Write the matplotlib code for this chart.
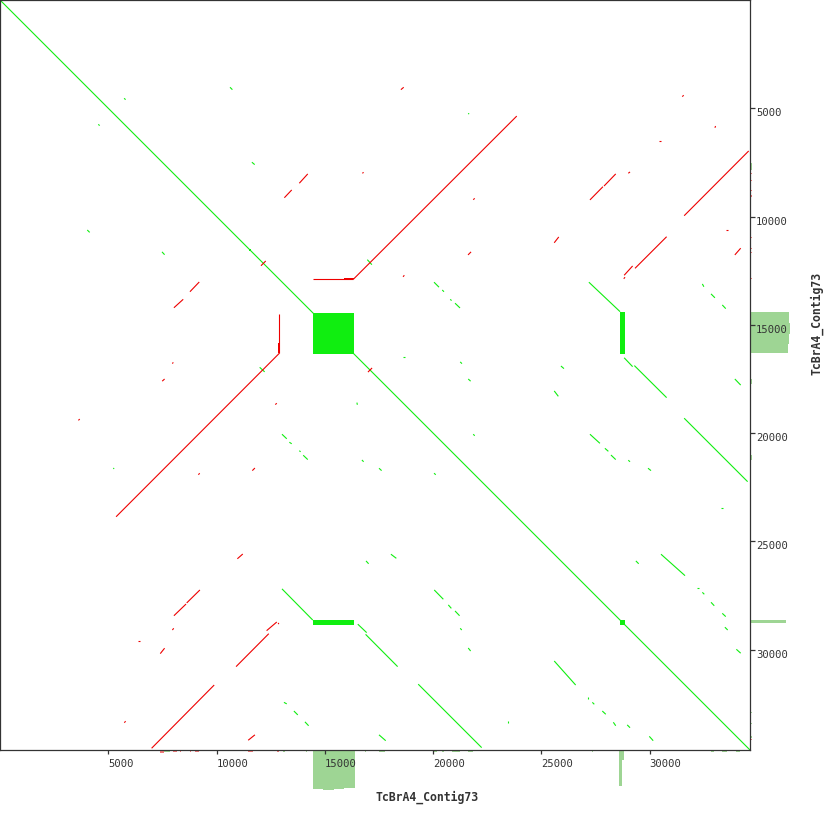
import matplotlib
matplotlib.use('Agg')
import matplotlib.pyplot as plt
from matplotlib.patches import Rectangle

# contig self-comparison (dot plot)
contig_name = 'TcBrA4_Contig73'
contig_len = 34630
ticks = [5000, 10000, 15000, 20000, 25000, 30000]

# forward hits: (x1, y1, x2, y2) in bp
fwd_hits = [
    (0, 0, 34630, 34630),
    (10620, 4030, 10730, 4140), (5730, 4540, 5800, 4600), (4540, 5740, 4600, 5800),
    (11630, 7490, 11760, 7600), (4030, 10620, 4140, 10730), (7480, 11630, 7600, 11760),
    (21620, 5230, 21660, 5270), (20040, 13030, 20270, 13260), (20420, 13390, 20500, 13470),
    (20790, 13820, 20850, 13880), (21010, 14000, 21240, 14220), (18610, 16500, 18700, 16500),
    (21250, 16710, 21330, 16790), (25900, 16900, 26040, 17020), (27190, 13030, 28630, 14390),
    (28820, 16520, 29210, 16930), (29290, 16880, 30780, 18360), (32430, 13110, 32500, 13240),
    (32830, 13570, 33010, 13750), (33350, 14080, 33510, 14250),
    (16480, 18590, 16500, 18690), (5230, 21610, 5270, 21650), (13020, 20050, 13240, 20260),
    (13360, 20420, 13470, 20490), (13820, 20810, 13880, 20860), (14000, 21020, 14210, 21220),
    (16710, 21240, 16790, 21320), (16900, 25900, 17020, 26030), (13020, 27190, 14440, 28630),
    (16520, 28820, 16930, 29210), (16880, 29290, 18360, 30780), (13110, 32430, 13240, 32500),
    (13570, 32830, 13750, 33010), (14080, 33330, 14250, 33510),
    (21620, 17500, 21730, 17600), (25590, 18050, 25780, 18300), (33930, 17500, 34200, 17780),
    (21850, 20050, 21920, 20120), (27240, 20050, 27700, 20470), (27930, 20700, 28090, 20840),
    (28210, 21010, 28430, 21220), (29010, 21250, 29090, 21320), (29920, 21620, 30060, 21730),
    (31590, 19310, 34520, 22240), (17500, 21620, 17620, 21730), (20040, 21850, 20120, 21920),
    (33290, 23470, 33390, 23470), (18050, 25590, 18300, 25780), (30520, 25590, 31630, 26580),
    (29360, 25900, 29490, 26030), (32180, 27160, 32260, 27160), (32430, 27350, 32520, 27440),
    (32830, 27810, 32980, 27970), (33350, 28320, 33510, 28470), (33470, 28960, 33600, 29090),
    (34000, 29980, 34200, 30160), (20050, 27240, 20470, 27670), (20700, 27930, 20840, 28090),
    (21010, 28210, 21220, 28430), (21250, 29010, 21320, 29090), (21620, 29920, 21730, 30060),
    (25590, 30520, 26580, 31630), (19310, 31590, 22240, 34520), (27160, 32170, 27160, 32260),
    (27350, 32430, 27440, 32520), (27810, 32830, 27970, 32980), (28320, 33350, 28430, 33510),
    (28960, 33470, 29090, 33600), (23470, 33290, 23470, 33390), (17500, 33930, 17810, 34200),
    (29980, 34000, 30160, 34200),
    (11990, 16960, 12220, 17170), (16960, 11990, 17170, 12220),
]

# reverse hits: (x1, y1, x2, y2) in bp
rev_hits = [
    (16310, 12900, 23860, 5360), (14470, 12900, 16310, 12900),
    (5360, 23860, 12900, 16310), (12900, 14500, 12900, 16310),
    (12050, 12270, 12270, 12050), (16990, 17180, 17180, 16990),
    (16730, 8000, 16790, 7960), (13820, 8460, 14210, 8030), (13130, 9130, 13470, 8770),
    (8030, 14210, 8460, 13820), (8770, 13470, 9200, 13020), (7960, 16790, 8000, 16730),
    (18510, 4140, 18640, 4030), (21850, 9220, 21920, 9160), (21610, 11770, 21750, 11630),
    (18610, 12780, 18670, 12710), (31500, 4460, 31570, 4400), (33010, 5900, 33040, 5820),
    (30410, 6520, 30520, 6520), (27240, 9230, 27840, 8620), (27890, 8590, 28430, 8030),
    (29010, 8000, 29090, 7940), (31590, 9960, 34570, 6970), (25590, 11210, 25800, 10940),
    (28800, 12870, 28860, 12800), (28820, 12710, 29210, 12280), (29320, 12390, 30780, 10930),
    (33510, 10620, 33600, 10620), (33930, 11770, 34200, 11460),
    (7490, 17600, 7600, 17500), (3620, 19410, 3680, 19350), (12710, 18680, 12780, 18620),
    (9160, 21920, 9220, 21850), (11650, 21730, 11770, 21610), (10960, 25800, 11210, 25580),
    (8030, 28430, 8590, 27890), (8620, 27840, 9230, 27240), (7960, 29090, 8020, 29010),
    (6370, 29610, 6450, 29610), (7400, 30180, 7600, 29930), (10900, 30780, 12410, 29260),
    (12310, 29120, 12780, 28720), (12850, 28760, 12870, 28820), (7000, 34550, 9890, 31630),
    (5740, 33370, 5800, 33300), (11460, 34180, 11770, 33930),
]

# dense blocks: (x1, y1, x2, y2) in bp
fwd_blocks = [
    (14440, 14440, 16350, 16350), (28630, 14420, 28860, 16360),
    (14440, 28630, 16360, 28860), (11520, 11520, 11610, 11610),
    (28620, 28620, 28840, 28840),
]
rev_blocks = [(15880, 12830, 16330, 12900), (12830, 15850, 12900, 16310)]

# coverage tracks: (start, end, depth)
x_cov_fwd = [
    (7530, 7850, 2), (13090, 13140, 2), (14140, 14190, 2), (14440, 14900, 39),
    (14900, 15400, 40), (15400, 15900, 39), (15900, 16380, 38), (16860, 16910, 2),
    (17500, 17780, 2), (19990, 20180, 2), (20400, 20500, 2), (20870, 21240, 2),
    (21610, 21840, 2), (27340, 27390, 2), (28330, 28380, 1), (28600, 28740, 36),
    (28740, 28790, 10), (28980, 29030, 1), (32420, 32470, 1), (32830, 32970, 2),
    (33320, 33550, 2), (33980, 34170, 2),
]
x_cov_rev = [
    (7390, 7570, 3), (7970, 8160, 2), (8290, 8340, 2), (8780, 8830, 2),
    (9000, 9190, 2), (11450, 11680, 2), (12810, 12860, 2),
]
y_cov_fwd = [
    (7530, 7850, 2), (13090, 13140, 1), (14140, 14190, 1), (14420, 14900, 39),
    (14900, 15400, 40), (15400, 15900, 39), (15900, 16310, 38), (16830, 16880, 1),
    (17510, 17730, 2), (21000, 21240, 2), (21590, 21640, 1), (21820, 21870, 1),
    (25910, 25960, 1), (27340, 27390, 1), (28330, 28380, 1), (28630, 28770, 36),
    (28720, 28780, 10), (28990, 29040, 1), (32400, 32450, 1), (32860, 32930, 2),
    (33370, 33420, 2), (33980, 34080, 2),
]
y_cov_rev = [
    (7970, 8020, 2), (8290, 8340, 2), (8750, 8800, 2), (9000, 9100, 2),
    (10920, 10970, 2), (11430, 11480, 2), (11650, 11700, 2), (12830, 12880, 2),
    (34110, 34160, 2),
]

green = '#10ee10'
red = '#ee0000'
cov_green = '#9ed594'
cov_red = '#f27a7a'
dark = '#333333'
W = 830

fig = plt.figure(figsize=(8.3, 8.3), dpi=100)
ax = fig.add_axes([0, 80 / W, 750 / W, 750 / W])
ax.set_zorder(2)

for x1, y1, x2, y2 in fwd_hits:
    ax.plot([x1, x2], [y1, y2], color=green, lw=0.8, solid_capstyle='butt')
for x1, y1, x2, y2 in rev_hits:
    ax.plot([x1, x2], [y1, y2], color=red, lw=0.8, solid_capstyle='butt')
for x1, y1, x2, y2 in fwd_blocks:
    ax.add_patch(Rectangle((x1, y1), x2 - x1, y2 - y1, color=green, lw=0))
for x1, y1, x2, y2 in rev_blocks:
    ax.add_patch(Rectangle((x1, y1), x2 - x1, y2 - y1, color=red, lw=0))

ax.set_xlim(0, contig_len)
ax.set_ylim(contig_len, 0)
ax.set_xticks(ticks)
ax.set_yticks(ticks)
ax.set_xticklabels([str(t) for t in ticks], family='DejaVu Sans Mono', fontsize=7.6, color=dark)
ax.set_yticklabels([str(t) for t in ticks], family='DejaVu Sans Mono', fontsize=7.6, color=dark)
ax.yaxis.tick_right()
for lab in ax.get_xticklabels():
    lab.set_ha('left')
for lab in ax.get_yticklabels():
    lab.set_va('top')
ax.tick_params(axis='x', direction='out', length=3.2, width=0.9, color=dark, pad=3.5)
ax.tick_params(axis='y', direction='out', length=3.6, width=0.9, color=dark, pad=0.8)
for s in ax.spines.values():
    s.set_color(dark)
    s.set_linewidth(0.9)

# coverage under the x axis
axb = fig.add_axes([0, 35 / W, 750 / W, 45 / W], sharex=ax)
axb.set_zorder(1)
axb.patch.set_alpha(0)
for s, e, d in x_cov_fwd:
    axb.bar(s, d, width=e - s, align='edge', color=cov_green, lw=0)
for s, e, d in x_cov_rev:
    axb.bar(s, d, width=e - s, align='edge', color=cov_red, lw=0)
axb.set_ylim(45, 0)
axb.axis('off')

# coverage right of the y axis
axr = fig.add_axes([750 / W, 80 / W, 45 / W, 750 / W], sharey=ax)
axr.set_zorder(1)
axr.patch.set_alpha(0)
for s, e, d in y_cov_fwd:
    axr.barh(s, d, height=e - s, align='edge', color=cov_green, lw=0)
for s, e, d in y_cov_rev:
    axr.barh(s, d, height=e - s, align='edge', color=cov_red, lw=0)
axr.set_xlim(0, 45)
axr.axis('off')

fig.text(427 / W, 1 - 797 / W, contig_name, ha='center', va='center',
         family='DejaVu Sans Mono', fontweight='bold', fontsize=8.3, color=dark)
fig.text(817 / W, 1 - 323 / W, contig_name, ha='center', va='center', rotation=90,
         family='DejaVu Sans Mono', fontweight='bold', fontsize=8.3, color=dark)

fig.savefig('out.png', dpi=100)
